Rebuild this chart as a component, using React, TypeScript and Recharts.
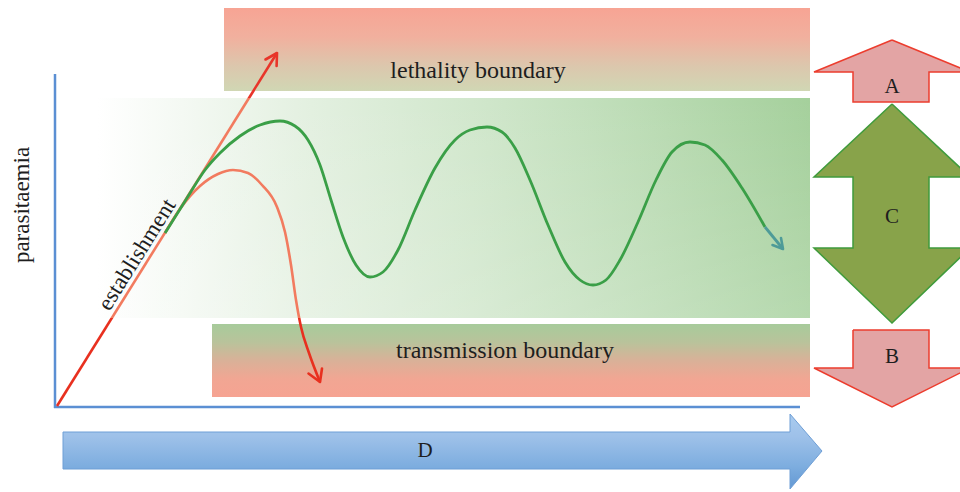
import React from 'react';
import {
  ComposedChart,
  XAxis,
  YAxis,
  Line,
  Scatter,
  ReferenceArea,
  ReferenceLine,
  ReferenceDot,
} from 'recharts';

// ---- diagram data (time on x, parasitaemia on y; y axis reversed, top = high) ----
const lethalityBand = [224, 810, 8, 91]; // x1, x2, y1, y2
const toleranceZone = [97, 810, 98, 318];
const transmissionBand = [212, 810, 324, 397];

const yAxisSegment = [
  { x: 55, y: 74 },
  { x: 55, y: 408 },
];
const xAxisSegment = [
  { x: 54, y: 407 },
  { x: 800, y: 407 },
];

const establishment = [
  { x: 57, y: 406 },
  { x: 277, y: 53 },
];
const establishmentHead = [
  { x: 265.5, y: 59.5 },
  { x: 277, y: 53 },
  { x: 276.6, y: 66 },
];

const clearedCurve = [
  { x: 165, y: 233 },
  { x: 180, y: 209 },
  { x: 200, y: 186 },
  { x: 218, y: 174 },
  { x: 233, y: 170 },
  { x: 248, y: 173 },
  { x: 262, y: 185 },
  { x: 277, y: 207 },
  { x: 285, y: 232 },
  { x: 291, y: 265 },
  { x: 296, y: 300 },
  { x: 301, y: 327 },
  { x: 309, y: 353 },
  { x: 320, y: 382 },
];
const clearedHead = [
  { x: 308.5, y: 373.5 },
  { x: 320, y: 382 },
  { x: 322, y: 368.5 },
];

const chronicCurve = [
  { x: 165, y: 233 },
  { x: 187, y: 198 },
  { x: 205, y: 170 },
  { x: 220, y: 153 },
  { x: 240, y: 136 },
  { x: 260, y: 125 },
  { x: 280, y: 121 },
  { x: 295, y: 126 },
  { x: 308, y: 140 },
  { x: 320, y: 165 },
  { x: 331, y: 200 },
  { x: 343, y: 237 },
  { x: 356, y: 265 },
  { x: 370, y: 277 },
  { x: 383, y: 272 },
  { x: 398, y: 250 },
  { x: 415, y: 210 },
  { x: 435, y: 168 },
  { x: 455, y: 140 },
  { x: 470, y: 130 },
  { x: 487, y: 127 },
  { x: 502, y: 132 },
  { x: 515, y: 148 },
  { x: 530, y: 180 },
  { x: 548, y: 225 },
  { x: 565, y: 262 },
  { x: 580, y: 280 },
  { x: 593, y: 285 },
  { x: 606, y: 280 },
  { x: 620, y: 260 },
  { x: 638, y: 222 },
  { x: 656, y: 180 },
  { x: 672, y: 152 },
  { x: 690, y: 142 },
  { x: 705, y: 145 },
  { x: 722, y: 160 },
  { x: 742, y: 188 },
  { x: 765, y: 227 },
];
const chronicTail = [
  { x: 765, y: 227 },
  { x: 783, y: 249 },
];
const chronicHead = [
  { x: 772.5, y: 245 },
  { x: 783, y: 249 },
  { x: 781, y: 238 },
];

const arrowA = [
  { x: 892, y: 40 },
  { x: 970, y: 72 },
  { x: 929, y: 72 },
  { x: 929, y: 102 },
  { x: 853, y: 102 },
  { x: 853, y: 72 },
  { x: 814, y: 72 },
  { x: 892, y: 40 },
];
const arrowC = [
  { x: 892, y: 104 },
  { x: 970, y: 177 },
  { x: 929, y: 177 },
  { x: 929, y: 248 },
  { x: 970, y: 248 },
  { x: 892, y: 323 },
  { x: 814, y: 248 },
  { x: 853, y: 248 },
  { x: 853, y: 177 },
  { x: 814, y: 177 },
  { x: 892, y: 104 },
];
const arrowB = [
  { x: 853, y: 330 },
  { x: 929, y: 330 },
  { x: 929, y: 368 },
  { x: 970, y: 368 },
  { x: 892, y: 407 },
  { x: 814, y: 368 },
  { x: 853, y: 368 },
  { x: 853, y: 330 },
];
const arrowD = [
  { x: 63, y: 432 },
  { x: 790, y: 432 },
  { x: 790, y: 414 },
  { x: 822, y: 451 },
  { x: 790, y: 489 },
  { x: 790, y: 469 },
  { x: 63, y: 469 },
  { x: 63, y: 432 },
];

const textLabels = [
  { x: 478, y: 69, text: 'lethality boundary', angle: 0, size: 24 },
  { x: 505, y: 349, text: 'transmission boundary', angle: 0, size: 24 },
  { x: 21, y: 205, text: 'parasitaemia', angle: -90, size: 23 },
  { x: 136, y: 254, text: 'establishment', angle: -58, size: 23 },
  { x: 892, y: 86, text: 'A', angle: 0, size: 21 },
  { x: 892, y: 216, text: 'C', angle: 0, size: 21 },
  { x: 892, y: 356, text: 'B', angle: 0, size: 21 },
  { x: 425, y: 450, text: 'D', angle: 0, size: 21 },
];

const SERIF = 'Liberation Serif';
const NoPoint = () => <g />;

export default function App() {
  return (
    <div
      style={{
        position: 'absolute',
        left: 0,
        top: 0,
        width: 960,
        height: 492,
        background: '#fff',
        fontFamily: "'Liberation Serif', 'DejaVu Serif', serif",
      }}
    >
      <ComposedChart
        width={960}
        height={492}
        margin={{ top: 0, right: 0, bottom: 0, left: 0 }}
        style={{ fontFamily: "'Liberation Serif', serif" }}
      >
        <defs>
          <linearGradient id="lethalGrad" x1="0" y1="0" x2="0" y2="1">
            <stop offset="0" stopColor="#f7a494" />
            <stop offset="0.35" stopColor="#f1b09e" />
            <stop offset="0.7" stopColor="#dcc7ad" />
            <stop offset="1" stopColor="#d0d7b4" />
          </linearGradient>
          <linearGradient id="transGrad" x1="0" y1="0" x2="0" y2="1">
            <stop offset="0" stopColor="#a7cb9b" />
            <stop offset="0.25" stopColor="#b9c39b" />
            <stop offset="0.5" stopColor="#d9b198" />
            <stop offset="0.75" stopColor="#f1a693" />
            <stop offset="1" stopColor="#f6a392" />
          </linearGradient>
          <linearGradient id="zoneGrad" x1="0" y1="0" x2="1" y2="0">
            <stop offset="0" stopColor="#ffffff" />
            <stop offset="0.12" stopColor="#f4f9f3" />
            <stop offset="0.3" stopColor="#e3f0e0" />
            <stop offset="0.55" stopColor="#cfe6ca" />
            <stop offset="0.8" stopColor="#b8dab1" />
            <stop offset="1" stopColor="#a5d09c" />
          </linearGradient>
          <linearGradient id="zoneShade" x1="0" y1="0" x2="0" y2="1">
            <stop offset="0" stopColor="#ffffff" stopOpacity="0" />
            <stop offset="1" stopColor="#ffffff" stopOpacity="0.18" />
          </linearGradient>
          <linearGradient id="redStroke" gradientUnits="userSpaceOnUse" x1="0" y1="0" x2="0" y2="492">
            <stop offset="0" stopColor="#e8352a" />
            <stop offset="0.199" stopColor="#e8352a" />
            <stop offset="0.199" stopColor="#f27b5f" />
            <stop offset="0.646" stopColor="#f27b5f" />
            <stop offset="0.646" stopColor="#e8301f" />
            <stop offset="1" stopColor="#e8301f" />
          </linearGradient>
          <linearGradient id="dGrad" x1="0" y1="0" x2="0" y2="1">
            <stop offset="0" stopColor="#a9cbef" />
            <stop offset="0.3" stopColor="#9ec1e9" />
            <stop offset="0.7" stopColor="#7daddf" />
            <stop offset="1" stopColor="#6398d3" />
          </linearGradient>
        </defs>

        <XAxis type="number" dataKey="x" domain={[0, 960]} allowDataOverflow hide />
        <YAxis type="number" dataKey="y" domain={[0, 492]} reversed allowDataOverflow hide />

        <ReferenceArea
          x1={lethalityBand[0]}
          x2={lethalityBand[1]}
          y1={lethalityBand[2]}
          y2={lethalityBand[3]}
          fill="url(#lethalGrad)"
          fillOpacity={1}
          stroke="none"
        />
        <ReferenceArea
          x1={toleranceZone[0]}
          x2={toleranceZone[1]}
          y1={toleranceZone[2]}
          y2={toleranceZone[3]}
          fill="url(#zoneGrad)"
          fillOpacity={1}
          stroke="none"
        />
        <ReferenceArea
          x1={toleranceZone[0]}
          x2={toleranceZone[1]}
          y1={toleranceZone[2]}
          y2={toleranceZone[3]}
          fill="url(#zoneShade)"
          fillOpacity={1}
          stroke="none"
        />
        <ReferenceArea
          x1={transmissionBand[0]}
          x2={transmissionBand[1]}
          y1={transmissionBand[2]}
          y2={transmissionBand[3]}
          fill="url(#transGrad)"
          fillOpacity={1}
          stroke="none"
        />

        <ReferenceLine segment={yAxisSegment} stroke="#5b8fd3" strokeWidth={2.5} />
        <ReferenceLine segment={xAxisSegment} stroke="#5b8fd3" strokeWidth={2.5} />

        <Line
          data={establishment}
          dataKey="y"
          type="linear"
          stroke="url(#redStroke)"
          strokeWidth={2.6}
          dot={false}
          activeDot={false}
          isAnimationActive={false}
        />
        <Line
          data={clearedCurve}
          dataKey="y"
          type="monotone"
          stroke="url(#redStroke)"
          strokeWidth={2.6}
          dot={false}
          activeDot={false}
          isAnimationActive={false}
        />
        <Line
          data={chronicCurve}
          dataKey="y"
          type="monotone"
          stroke="#3a9f47"
          strokeWidth={2.8}
          dot={false}
          activeDot={false}
          isAnimationActive={false}
        />
        <Line
          data={chronicTail}
          dataKey="y"
          type="linear"
          stroke="#4e9b98"
          strokeWidth={2.8}
          dot={false}
          activeDot={false}
          isAnimationActive={false}
        />

        <Scatter
          data={establishmentHead}
          shape={NoPoint}
          line={{ fill: 'none', stroke: '#e8352a', strokeWidth: 2.6, strokeLinejoin: 'round', strokeLinecap: 'round' }}
          lineType="joint"
          lineJointType="linear"
          isAnimationActive={false}
        />
        <Scatter
          data={clearedHead}
          shape={NoPoint}
          line={{ fill: 'none', stroke: '#e8301f', strokeWidth: 2.6, strokeLinejoin: 'round', strokeLinecap: 'round' }}
          lineType="joint"
          lineJointType="linear"
          isAnimationActive={false}
        />
        <Scatter
          data={chronicHead}
          shape={NoPoint}
          line={{ fill: 'none', stroke: '#4e9b98', strokeWidth: 2.6, strokeLinejoin: 'round', strokeLinecap: 'round' }}
          lineType="joint"
          lineJointType="linear"
          isAnimationActive={false}
        />
        <Scatter
          data={arrowA}
          shape={NoPoint}
          line={{ fill: '#e3a4a4', stroke: '#ec3d2e', strokeWidth: 1.5 }}
          lineType="joint"
          lineJointType="linear"
          isAnimationActive={false}
        />
        <Scatter
          data={arrowC}
          shape={NoPoint}
          line={{ fill: '#88a34a', stroke: '#3f9b3c', strokeWidth: 1.5 }}
          lineType="joint"
          lineJointType="linear"
          isAnimationActive={false}
        />
        <Scatter
          data={arrowB}
          shape={NoPoint}
          line={{ fill: '#e3a4a4', stroke: '#ec3d2e', strokeWidth: 1.5 }}
          lineType="joint"
          lineJointType="linear"
          isAnimationActive={false}
        />
        <Scatter
          data={arrowD}
          shape={NoPoint}
          line={{ fill: 'url(#dGrad)', stroke: '#6f9fd6', strokeWidth: 1 }}
          lineType="joint"
          lineJointType="linear"
          isAnimationActive={false}
        />

        {textLabels.map((t) => (
          <ReferenceDot
            key={t.text}
            x={t.x}
            y={t.y}
            r={0}
            fill="none"
            stroke="none"
            label={{
              value: t.text,
              position: 'center',
              angle: t.angle,
              fontSize: t.size,
              fill: '#1e1e1e',
              fontFamily: SERIF,
              style: { fontFamily: "'Liberation Serif', serif" },
            }}
          />
        ))}
      </ComposedChart>
    </div>
  );
}
